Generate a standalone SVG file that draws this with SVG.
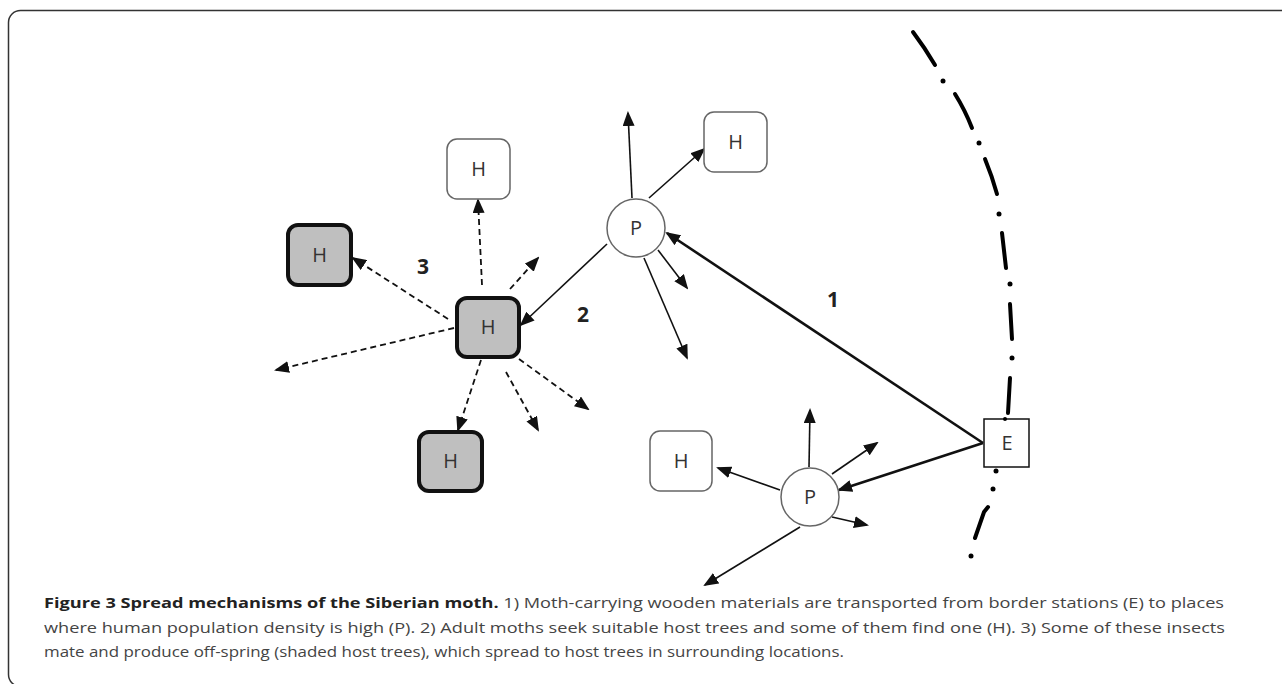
<svg xmlns="http://www.w3.org/2000/svg" width="1282" height="684" viewBox="0 0 1282 684">
<style>
.frame{fill:none;stroke:#333;stroke-width:1.5}
.hw{fill:#fff;stroke:#666;stroke-width:1.5}
.hg{fill:#bfbfbf;stroke:#111;stroke-width:4}
.pc{fill:#fff;stroke:#666;stroke-width:1.5}
.eb{fill:#fff;stroke:#111;stroke-width:1.5}
.lbl{font-family:"Open Sans","Liberation Sans",sans-serif;font-size:20px;fill:#333;text-anchor:middle;dominant-baseline:central}
.num{font-family:"Open Sans","Liberation Sans",sans-serif;font-size:21px;font-weight:bold;fill:#222;text-anchor:middle;dominant-baseline:central}
.thin{stroke:#111;stroke-width:1.6;fill:none;marker-end:url(#ah)}
.thick{stroke:#111;stroke-width:2.6;fill:none;marker-end:url(#ah)}
.dash{stroke:#111;stroke-width:1.8;fill:none;stroke-dasharray:6 4;marker-end:url(#ah)}
.bd{stroke:#000;stroke-width:4;fill:none;stroke-linecap:round}
.cap{font-family:"Open Sans","Liberation Sans",sans-serif;font-size:15px;fill:#444}
.capb{font-weight:bold;fill:#222}
</style>
<defs>
<marker id="ah" markerUnits="userSpaceOnUse" markerWidth="15" markerHeight="12" refX="13" refY="6" orient="auto">
<path d="M0,0 L15,6 L0,12 z" fill="#111"/>
</marker>
</defs>
<rect class="frame" x="8.5" y="10.5" width="1300" height="676" rx="12"/>
<g id="boundary">
<path class="bd" d="M913,32 Q925,48 935,65"/>
<circle cx="943" cy="81" r="2.5"/>
<path class="bd" d="M955,94 Q965,110 972,128"/>
<circle cx="979" cy="143" r="2.5"/>
<path class="bd" d="M985,159 Q992,176 997,194"/>
<circle cx="999" cy="214" r="2.5"/>
<path class="bd" d="M1002,233 L1006,268"/>
<circle cx="1010" cy="284" r="2.5"/>
<path class="bd" d="M1010,304 L1012,339"/>
<circle cx="1012" cy="358" r="2.5"/>
<path class="bd" d="M1010,378 L1008,413"/>
<circle cx="996" cy="471" r="2.5"/>
<circle cx="993" cy="489" r="2.5"/>
<path class="bd" d="M988,507 L984,512 L975,538"/>
<circle cx="971" cy="556" r="2.5"/>
</g>
<g id="connectors">
<line class="thick" x1="983" y1="443" x2="667" y2="233"/>
<line class="thick" x1="983" y1="443" x2="839" y2="490"/>
<line class="thin" x1="607" y1="244" x2="521" y2="325"/>
<line class="thin" x1="632" y1="198" x2="628" y2="113"/>
<line class="thin" x1="649" y1="198" x2="704" y2="149"/>
<line class="thin" x1="658" y1="250" x2="687" y2="288"/>
<line class="thin" x1="644" y1="258" x2="687" y2="358"/>
<line class="thin" x1="809" y1="467" x2="810" y2="410"/>
<line class="thin" x1="832" y1="474" x2="877" y2="443"/>
<line class="thin" x1="780" y1="490" x2="718" y2="468"/>
<line class="thin" x1="832" y1="517" x2="867" y2="525"/>
<line class="thin" x1="800" y1="527" x2="705" y2="585"/>
<line class="dash" x1="482" y1="285" x2="478" y2="200"/>
<line class="dash" x1="510" y1="289" x2="538" y2="258"/>
<line class="dash" x1="448" y1="319" x2="353" y2="258"/>
<line class="dash" x1="454" y1="328" x2="276" y2="370"/>
<line class="dash" x1="481" y1="360" x2="458" y2="430"/>
<line class="dash" x1="506" y1="372" x2="538" y2="430"/>
<line class="dash" x1="519" y1="359" x2="588" y2="409"/>
</g>
<g id="h-top"><rect class="hw" x="447" y="139" width="63" height="60" rx="10"/><text class="lbl" x="478.5" y="168">H</text></g>
<g id="h-topright"><rect class="hw" x="704" y="112" width="63" height="60" rx="10"/><text class="lbl" x="735.5" y="141">H</text></g>
<g id="h-left"><rect class="hg" x="288" y="225" width="63" height="60" rx="10"/><text class="lbl" x="319.5" y="254">H</text></g>
<g id="h-center"><rect class="hg" x="457" y="298" width="62" height="59" rx="10"/><text class="lbl" x="488" y="326.5">H</text></g>
<g id="h-bottom"><rect class="hg" x="419" y="432" width="63" height="59" rx="10"/><text class="lbl" x="450.5" y="460.5">H</text></g>
<g id="h-bottomleft"><rect class="hw" x="650" y="431" width="62" height="60" rx="10"/><text class="lbl" x="681" y="460">H</text></g>
<g id="p-top"><circle class="pc" cx="636" cy="228" r="29"/><text class="lbl" x="636" y="227">P</text></g>
<g id="p-bottom"><circle class="pc" cx="810" cy="497" r="29"/><text class="lbl" x="810" y="496">P</text></g>
<g id="e"><rect class="eb" x="984" y="419" width="45" height="48"/><text class="lbl" x="1007" y="442">E</text><circle cx="1005" cy="419" r="2"/></g>
<g id="labels">
<text class="num" x="423" y="266">3</text>
<text class="num" x="583" y="314">2</text>
<text class="num" x="833" y="299">1</text>
</g>
<g id="caption">
<text class="cap" x="44" y="608" textLength="1180" lengthAdjust="spacingAndGlyphs"><tspan class="capb">Figure 3 Spread mechanisms of the Siberian moth.</tspan> 1) Moth-carrying wooden materials are transported from border stations (E) to places</text>
<text class="cap" x="44" y="633" textLength="1181" lengthAdjust="spacingAndGlyphs">where human population density is high (P). 2) Adult moths seek suitable host trees and some of them find one (H). 3) Some of these insects</text>
<text class="cap" x="44" y="657" textLength="800" lengthAdjust="spacingAndGlyphs">mate and produce off-spring (shaded host trees), which spread to host trees in surrounding locations.</text>
</g>
</svg>
